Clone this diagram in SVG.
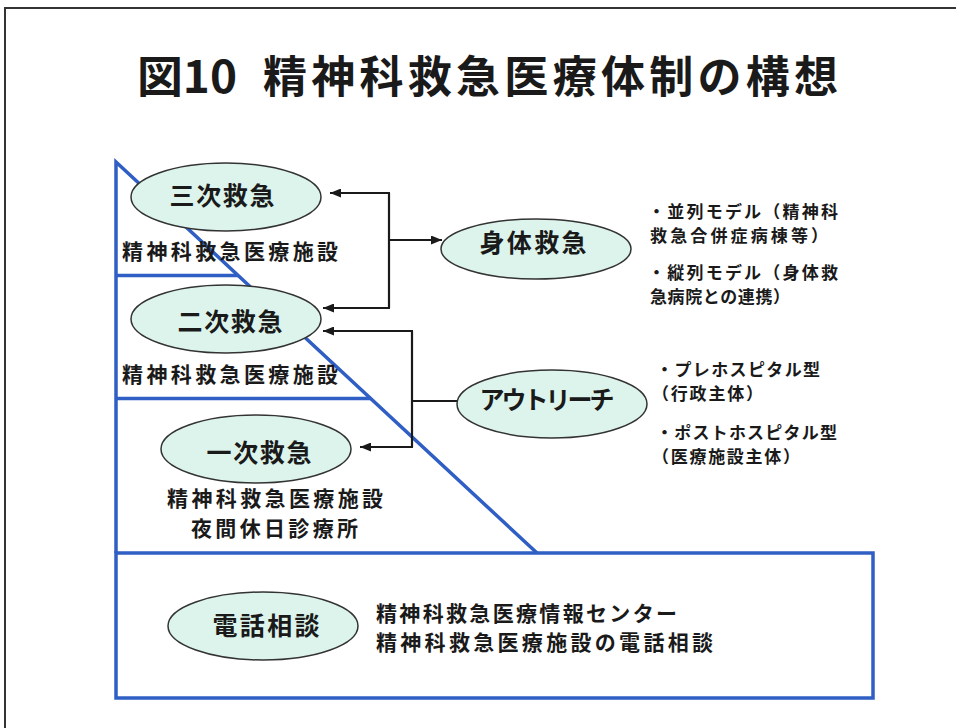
<svg xmlns="http://www.w3.org/2000/svg" width="956" height="728" viewBox="0 0 956 728">
<defs>
<style>
text{font-family:"Noto Sans CJK JP","Noto Sans",sans-serif;fill:#1a1a1a;}
.title{font-size:44px;font-weight:bold;}
.lbl{font-size:25px;font-weight:bold;text-anchor:middle;}
.sub{font-size:21px;font-weight:bold;}
.note{font-size:17px;font-weight:bold;}
.node ellipse{fill:#dcf4ec;stroke:#333;stroke-width:1.5;}
.blue{fill:none;stroke:#2f5fc4;stroke-width:3.5;stroke-linejoin:miter;}
.conn{fill:none;stroke:#1a1a1a;stroke-width:2.2;}
</style>
<marker id="ah" viewBox="0 0 11 9" refX="11" refY="4.5" markerWidth="11" markerHeight="9" markerUnits="userSpaceOnUse" orient="auto">
<path d="M0,0 L11,4.5 L0,9 Z" fill="#1a1a1a"/>
</marker>
</defs>
<rect x="0" y="0" width="956" height="728" fill="#fff"/>
<rect x="5" y="8" width="960" height="740" fill="none" stroke="#333" stroke-width="2"/>
<g id="title">
<text class="title" x="137" y="93" textLength="100" lengthAdjust="spacingAndGlyphs">図10</text>
<text class="title" x="263" y="93" textLength="575" lengthAdjust="spacing">精神科救急医療体制の構想</text>
</g>
<g id="frame">
<polyline class="blue" points="116,553 116,162 537,553"/>
<line class="blue" x1="116" y1="275.5" x2="238" y2="275.5"/>
<line class="blue" x1="116" y1="398.5" x2="371" y2="398.5"/>
<rect class="blue" x="116" y="553" width="757" height="145"/>
</g>
<g id="connectors">
<polyline class="conn" points="389,193 389,308"/>
<line class="conn" x1="390" y1="193" x2="330" y2="193" marker-end="url(#ah)"/>
<line class="conn" x1="390" y1="308" x2="323" y2="308" marker-end="url(#ah)"/>
<line class="conn" x1="389" y1="240" x2="442" y2="240" marker-end="url(#ah)"/>
<polyline class="conn" points="412,331 412,447"/>
<line class="conn" x1="413" y1="331" x2="323" y2="331" marker-end="url(#ah)"/>
<line class="conn" x1="413" y1="447" x2="360" y2="447" marker-end="url(#ah)"/>
<line class="conn" x1="412" y1="401" x2="458" y2="401"/>
</g>
<g id="node-sanji" class="node">
<ellipse cx="226" cy="197" rx="95" ry="34"/>
<text class="lbl" x="222" y="205" textLength="105" lengthAdjust="spacing">三次救急</text>
<text class="sub" x="122" y="259" textLength="216" lengthAdjust="spacing">精神科救急医療施設</text>
</g>
<g id="node-niji" class="node">
<ellipse cx="226" cy="319" rx="95" ry="34"/>
<text class="lbl" x="230" y="331" textLength="105" lengthAdjust="spacing">二次救急</text>
<text class="sub" x="122" y="382" textLength="216" lengthAdjust="spacing">精神科救急医療施設</text>
</g>
<g id="node-ichiji" class="node">
<ellipse cx="256" cy="449" rx="95" ry="34"/>
<text class="lbl" x="259" y="462" textLength="105" lengthAdjust="spacing">一次救急</text>
<text class="sub" x="167" y="506" textLength="216" lengthAdjust="spacing">精神科救急医療施設</text>
<text class="sub" x="191" y="536" textLength="167" lengthAdjust="spacing">夜間休日診療所</text>
</g>
<g id="node-denwa" class="node">
<ellipse cx="263" cy="626" rx="95" ry="34"/>
<text class="lbl" x="266" y="635" textLength="107" lengthAdjust="spacing">電話相談</text>
<text class="sub" x="376" y="621" textLength="301" lengthAdjust="spacing">精神科救急医療情報センター</text>
<text class="sub" x="376" y="650" textLength="337" lengthAdjust="spacing">精神科救急医療施設の電話相談</text>
</g>
<g id="node-shintai" class="node">
<ellipse cx="536" cy="249" rx="95" ry="30"/>
<text class="lbl" x="533" y="252" textLength="107" lengthAdjust="spacing">身体救急</text>
<text class="note" x="648" y="218" textLength="190" lengthAdjust="spacing">・並列モデル（精神科</text>
<text class="note" x="650" y="242" textLength="178" lengthAdjust="spacing">救急合併症病棟等）</text>
<text class="note" x="648" y="279" textLength="190" lengthAdjust="spacing">・縦列モデル（身体救</text>
<text class="note" x="650" y="303" textLength="140" lengthAdjust="spacing">急病院との連携）</text>
</g>
<g id="node-outreach" class="node">
<ellipse cx="552" cy="404" rx="95" ry="34"/>
<text class="lbl" x="547" y="409" textLength="135" lengthAdjust="spacing">アウトリーチ</text>
<text class="note" x="656" y="376" textLength="164" lengthAdjust="spacing">・プレホスピタル型</text>
<text class="note" x="652" y="400" textLength="111" lengthAdjust="spacing">（行政主体）</text>
<text class="note" x="656" y="439" textLength="181" lengthAdjust="spacing">・ポストホスピタル型</text>
<text class="note" x="652" y="463" textLength="148" lengthAdjust="spacing">（医療施設主体）</text>
</g>
</svg>
